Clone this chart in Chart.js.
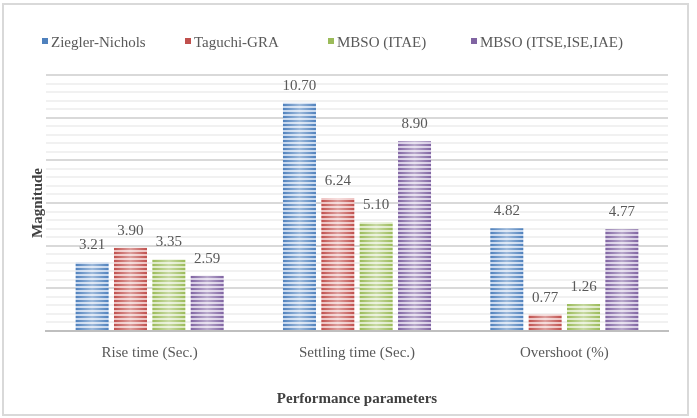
<!DOCTYPE html>
<html>
<head>
<meta charset="utf-8">
<script src="https://cdn.jsdelivr.net/npm/chart.js@4/dist/chart.umd.min.js"></script>
<style>
  html, body { margin: 0; padding: 0; background: #fff; }
  #wrap { width: 697px; height: 418px; }
</style>
</head>
<body>
<div id="wrap"><canvas id="chart" width="697" height="418"></canvas></div>
<script>
// data
const CATEGORIES = ['Rise time (Sec.)', 'Settling time (Sec.)', 'Overshoot (%)'];
const SERIES = ['Ziegler-Nichols', 'Taguchi-GRA', 'MBSO (ITAE)', 'MBSO (ITSE,ISE,IAE)'];
const ZIEGLER = [3.21, 10.70, 4.82];
const TAGUCHI = [3.90, 6.24, 0.77];
const MBSO_ITAE = [3.35, 5.10, 1.26];
const MBSO_MULTI = [2.59, 8.90, 4.77];
const Y_MIN = 0;
const Y_MAX = 12;
const Y_STEP = 0.4;
const Y_MAJOR = 2;

// Office 2007 palette: dark stripe / light stripe
const PALETTE = [
    ['#4f81bd', '#c6d7ee'],
    ['#c0504d', '#eec2c1'],
    ['#9bbb59', '#dde9c5'],
    ['#8064a2', '#d6cbe4'],
];

const FONT = "'Liberation Serif','Times New Roman',serif";
const TEXT = '#595959';

function stripes(dark, light) {
    const c = document.createElement('canvas');
    c.width = 4;
    c.height = 4;
    const g = c.getContext('2d');
    g.fillStyle = light;
    g.fillRect(0, 0, 4, 4);
    g.fillStyle = dark;
    g.fillRect(0, 0, 4, 2);
    return g.createPattern(c, 'repeat');
}

const ctx = document.getElementById('chart').getContext('2d');

const datasets = [ZIEGLER, TAGUCHI, MBSO_ITAE, MBSO_MULTI].map((vals, i) => ({
    label: SERIES[i],
    data: vals,
    backgroundColor: stripes(PALETTE[i][0], PALETTE[i][1]),
    borderWidth: 0,
    categoryPercentage: 0.74,
    barPercentage: 0.86,
}));

// outer frame round the whole chart
const framePlugin = {
    id: 'frame',
    beforeDraw(chart) {
        const c = chart.ctx;
        c.save();
        c.strokeStyle = '#d9d9d9';
        c.lineWidth = 2;
        c.strokeRect(3, 4, 685, 411);
        c.restore();
    },
};

// lighter band down the middle of each bar, then value labels
const barExtras = {
    id: 'barExtras',
    afterDatasetsDraw(chart) {
        const c = chart.ctx;
        c.save();
        chart.data.datasets.forEach((ds, i) => {
            chart.getDatasetMeta(i).data.forEach((bar, j) => {
                const left = bar.x - bar.width / 2;
                const grad = c.createLinearGradient(left, 0, left + bar.width, 0);
                grad.addColorStop(0, 'rgba(255,255,255,0)');
                grad.addColorStop(0.5, 'rgba(255,255,255,0.45)');
                grad.addColorStop(1, 'rgba(255,255,255,0)');
                c.fillStyle = grad;
                c.fillRect(left, bar.y, bar.width, bar.base - bar.y);

                c.fillStyle = TEXT;
                c.font = '15px ' + FONT;
                c.textAlign = 'center';
                c.textBaseline = 'middle';
                c.fillText(ds.data[j].toFixed(2), bar.x, bar.y - 17);
            });
        });
        c.restore();
    },
};

// legend in fixed-width columns like the original
const legendPlugin = {
    id: 'colLegend',
    afterDraw(chart) {
        const c = chart.ctx;
        c.save();
        c.font = '15px ' + FONT;
        c.textBaseline = 'middle';
        c.textAlign = 'left';
        chart.data.datasets.forEach((ds, i) => {
            const x = 42 + 143 * i;
            c.fillStyle = PALETTE[i][0];
            c.fillRect(x, 38, 6, 6);
            c.fillStyle = TEXT;
            c.fillText(ds.label, x + 9, 43);
        });
        c.restore();
    },
};

new Chart(ctx, {
    type: 'bar',
    data: { labels: CATEGORIES, datasets },
    options: {
        responsive: false,
        animation: false,
        layout: { padding: { top: 75, right: 29, bottom: 0, left: 0 } },
        plugins: {
            legend: { display: false },
            tooltip: { enabled: false },
        },
        scales: {
            x: {
                grid: { display: false, drawTicks: false },
                border: { color: '#bfbfbf', width: 2 },
                ticks: {
                    color: TEXT,
                    padding: 13,
                    font: { family: FONT, size: 15 },
                },
                title: {
                    display: true,
                    text: 'Performance parameters',
                    color: '#404040',
                    font: { family: FONT, size: 15, weight: 'bold' },
                    padding: { top: 0, bottom: 10 },
                },
                afterFit(s) { s.height = 87; },
            },
            y: {
                min: Y_MIN,
                max: Y_MAX,
                ticks: { display: false, stepSize: Y_STEP },
                border: { display: false },
                grid: {
                    drawTicks: false,
                    lineWidth: 2,
                    color(c) {
                        const v = c.tick ? c.tick.value : 0;
                        if (v === 0) return 'rgba(0,0,0,0)';
                        const r = v / Y_MAJOR;
                        return Math.abs(r - Math.round(r)) < 1e-6 ? '#d9d9d9' : '#f1f1f1';
                    },
                },
                title: {
                    display: true,
                    text: 'Magnitude',
                    color: '#404040',
                    font: { family: FONT, size: 15, weight: 'bold' },
                    padding: { top: 29, bottom: 0 },
                },
                afterFit(s) { s.width = 46; },
            },
        },
    },
    plugins: [framePlugin, barExtras, legendPlugin],
});
</script>
</body>
</html>
